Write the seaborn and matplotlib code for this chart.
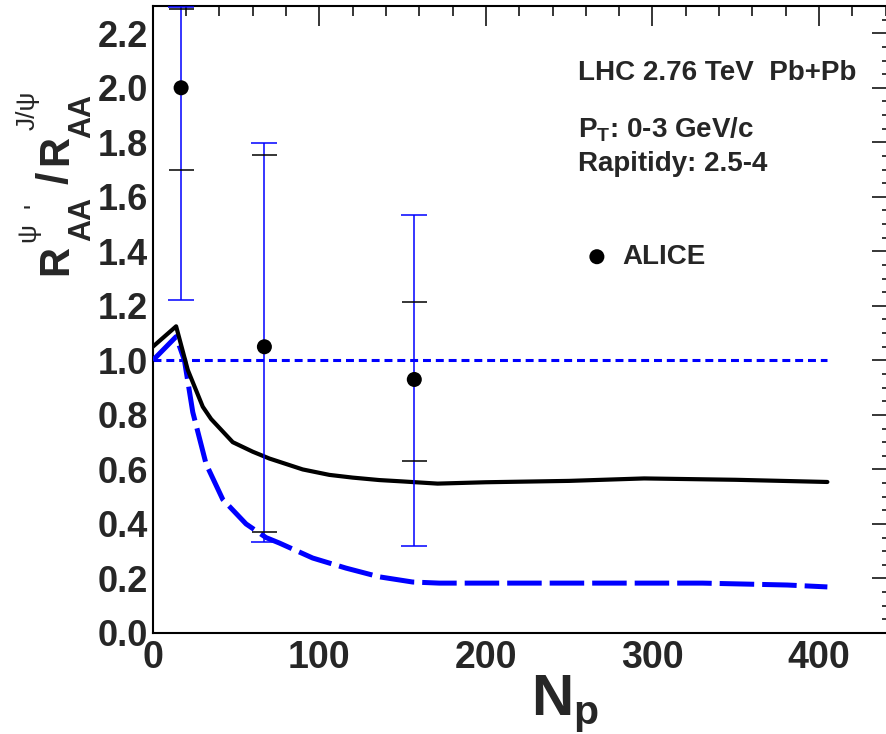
import matplotlib
matplotlib.use("Agg")
import matplotlib.pyplot as plt
from matplotlib.ticker import MultipleLocator, FormatStrFormatter
import seaborn as sns
import pandas as pd
import numpy as np

# ---------------- data ----------------
# model curve: full (solid black)
full_np = [0, 14, 21, 30, 35, 48, 60, 70, 80, 90, 106, 120, 136, 150, 171, 200, 250, 295, 350, 405]
full_r = [1.05, 1.125, 0.965, 0.83, 0.785, 0.70, 0.665, 0.64, 0.62, 0.60, 0.58, 0.57, 0.561,
          0.556, 0.548, 0.553, 0.558, 0.567, 0.562, 0.554]
# model curve: dashed blue
dash_np = [0, 14, 19, 24, 32, 42, 56, 68, 76, 96, 116, 136, 156, 172, 250, 330, 381, 405]
dash_r = [1.0, 1.087, 1.0, 0.81, 0.62, 0.49, 0.40, 0.35, 0.33, 0.275, 0.238, 0.206, 0.187,
          0.183, 0.183, 0.183, 0.176, 0.169]
# reference line at unity
unity_np = [0, 405]
unity_r = [1.0, 1.0]
# ALICE data
alice_np = [17, 67, 157]
alice_r = [2.0, 1.05, 0.93]
stat_low = [1.22, 0.335, 0.32]
stat_high = [2.298, 1.797, 1.535]
sys_low = [1.70, 0.37, 0.63]
sys_high = [2.29, 1.754, 1.215]

x_ticks = [0, 100, 200, 300, 400]

# ---------------- style ----------------
sns.set_theme(style="white")
plt.rcParams["font.family"] = ["Liberation Sans", "DejaVu Sans"]
plt.rcParams["mathtext.fontset"] = "custom"
plt.rcParams["mathtext.rm"] = "Liberation Sans"
plt.rcParams["mathtext.sf"] = "Liberation Sans"
plt.rcParams["mathtext.it"] = "Liberation Sans:italic"
plt.rcParams["mathtext.bf"] = "Liberation Sans:bold"

W, H = 887.0, 734.0
fig = plt.figure(figsize=(W / 100, H / 100), dpi=100)
L, R, B, T = 152.8, 894.0, 633.0, 6.0
ax = fig.add_axes([L / W, (H - B) / H, (R - L) / W, (B - T) / H])

def ax_xy(px, py):
    return (px - L) / (R - L), (B - py) / (B - T)

def fig_xy(px, py):
    return px / W, 1 - py / H

df_full = pd.DataFrame({"Np": full_np, "r": full_r})
df_dash = pd.DataFrame({"Np": dash_np, "r": dash_r})
df_unity = pd.DataFrame({"Np": unity_np, "r": unity_r})
df_alice = pd.DataFrame({"Np": alice_np, "r": alice_r})

sns.lineplot(data=df_unity, x="Np", y="r", ax=ax, color=(0, 0, 1), lw=2.2,
             linestyle=(0, (2.6, 1.6)), sort=False, estimator=None, zorder=2)
sns.lineplot(data=df_dash, x="Np", y="r", ax=ax, color=(0, 0, 1), lw=3.6,
             linestyle=(0, (6.9, 1.6)), sort=False, estimator=None, zorder=3)
sns.lineplot(data=df_full, x="Np", y="r", ax=ax, color="black", lw=3.0,
             sort=False, estimator=None, zorder=3)

a_np = np.array(alice_np)
a_r = np.array(alice_r)
ax.errorbar(a_np, a_r, yerr=[a_r - np.array(stat_low), np.array(stat_high) - a_r],
            fmt="none", ecolor=(0, 0, 1), elinewidth=1.1, capsize=9.4, capthick=1.1,
            zorder=4, clip_on=False)
ax.errorbar(a_np, a_r, yerr=[a_r - np.array(sys_low), np.array(sys_high) - a_r],
            fmt="none", ecolor="black", elinewidth=0, capsize=9.0, capthick=1.1,
            zorder=4, clip_on=False)
sns.scatterplot(data=df_alice, x="Np", y="r", ax=ax, color="black", s=117,
                edgecolor="none", label="ALICE", zorder=5, clip_on=False)

# ---------------- axes ----------------
ax.set_xlim(0, 445)
ax.set_ylim(0, 2.3)
ax.set_xticks(x_ticks)
ax.xaxis.set_minor_locator(MultipleLocator(20))
ax.yaxis.set_major_locator(MultipleLocator(0.2))
ax.yaxis.set_minor_locator(MultipleLocator(0.05))
ax.yaxis.set_major_formatter(FormatStrFormatter("%.1f"))
ax.set_xlabel("")
ax.set_ylabel("")
for s in ax.spines.values():
    s.set_linewidth(1.5)
    s.set_color("black")
ax.tick_params(axis="both", which="both", direction="in", top=True, right=True,
               color="black", width=1.1)
ax.tick_params(axis="y", which="major", length=15.8, pad=3.2, labelsize=26)
ax.tick_params(axis="y", which="minor", length=8.6)
ax.tick_params(axis="x", which="major", length=14.4, pad=5, labelsize=27)
ax.tick_params(axis="x", which="minor", length=7.2)
for lab in ax.get_xticklabels() + ax.get_yticklabels():
    lab.set_fontweight("bold")

# x axis title
x, y = ax_xy(531, 715)
ax.text(x, y, r"$\mathbf{N_p}$", transform=ax.transAxes, fontsize=42,
        ha="left", va="baseline")

# y axis title  R^{psi'}_{AA} / R^{J/psi}_{AA}, built from rotated pieces
ylab_parts = [
    # text, size, weight, start (bottom) y px, baseline x px
    ("R", 30, "bold", 275, 67),
    ("AA", 22, "bold", 241, 90),
    ("\u03c8", 19, "normal", 242, 35),
    ("'", 19, "normal", 208, 42),
    ("/", 32, "bold", 184, 68),
    ("R", 30, "bold", 165, 67),
    ("AA", 22, "bold", 138, 90),
    ("J/\u03c8", 19, "normal", 130, 35),
]
for txt, size, wt, sy, bx in ylab_parts:
    fx, fy = fig_xy(bx, sy)
    fig.text(fx, fy, txt, fontsize=size, fontweight=wt, rotation=90,
             rotation_mode="anchor", ha="left", va="baseline")

# annotations
x, y = ax_xy(578, 80)
ax.text(x, y, "LHC 2.76 TeV  Pb+Pb", transform=ax.transAxes, fontsize=20,
        fontweight="bold", ha="left", va="baseline")
x, y = ax_xy(578, 138)
ax.text(x, y, r"$\mathbf{P_T}$: 0-3 GeV/c", transform=ax.transAxes, fontsize=20,
        fontweight="bold", ha="left", va="baseline")
x, y = ax_xy(578, 171)
ax.text(x, y, "Rapitidy: 2.5-4", transform=ax.transAxes, fontsize=20,
        fontweight="bold", ha="left", va="baseline")

lx, ly = ax_xy(583, 257)
ax.legend(loc="center left", bbox_to_anchor=(lx, ly), frameon=False,
          prop={"size": 20, "weight": "bold"}, handlelength=1.0, handletextpad=0.43,
          borderpad=0, borderaxespad=0)

fig.savefig("out.png", dpi=100)
